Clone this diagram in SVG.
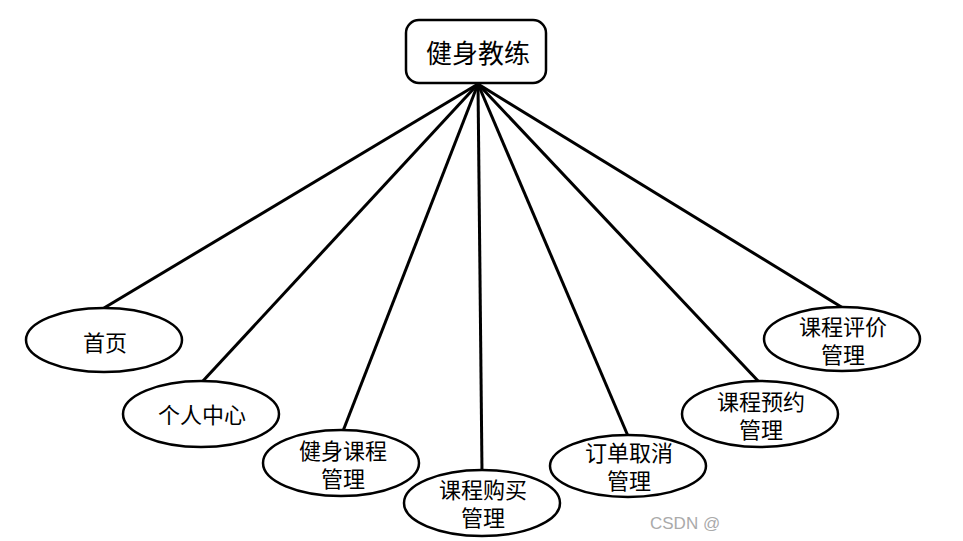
<svg xmlns="http://www.w3.org/2000/svg" width="963" height="541" viewBox="0 0 963 541">
<defs>
<style>
.e{fill:#fff;stroke:#000;stroke-width:2.5}
.t{font-family:"Noto Sans CJK SC","Noto Sans",sans-serif;font-size:22px;fill:#000;text-anchor:middle;dominant-baseline:central}
.c line{stroke:#000;stroke-width:3}
</style>
</defs>
<rect width="963" height="541" fill="#fff"/>
<g class="c" id="connectors">
<line x1="478" y1="84" x2="104" y2="308"/>
<line x1="478" y1="84" x2="202" y2="382"/>
<line x1="478" y1="84" x2="343" y2="431"/>
<line x1="478" y1="84" x2="482" y2="471"/>
<line x1="478" y1="84" x2="628" y2="436"/>
<line x1="478" y1="84" x2="760" y2="383"/>
<line x1="478" y1="84" x2="843" y2="308"/>
</g>
<g id="root">
<rect x="406" y="20" width="140" height="63" rx="13" class="e"/>
<text x="478" y="51" class="t" style="font-size:26px">健身教练</text>
</g>
<g id="n1">
<ellipse cx="104" cy="340" rx="78" ry="32" class="e"/>
<text x="105" y="341" class="t">首页</text>
</g>
<g id="n2">
<ellipse cx="201" cy="414" rx="78" ry="33" class="e"/>
<text x="202" y="413" class="t">个人中心</text>
</g>
<g id="n3">
<ellipse cx="341" cy="463" rx="78" ry="33" class="e"/>
<text class="t"><tspan x="343" y="449">健身课程</tspan><tspan x="343" y="477">管理</tspan></text>
</g>
<g id="n4">
<ellipse cx="482" cy="503" rx="78" ry="33" class="e"/>
<text class="t"><tspan x="483" y="488">课程购买</tspan><tspan x="483" y="516">管理</tspan></text>
</g>
<g id="n5">
<ellipse cx="628" cy="466" rx="78" ry="31" class="e"/>
<text class="t"><tspan x="629" y="451">订单取消</tspan><tspan x="629" y="479">管理</tspan></text>
</g>
<g id="n6">
<ellipse cx="760" cy="414" rx="78" ry="33" class="e"/>
<text class="t"><tspan x="761" y="400">课程预约</tspan><tspan x="761" y="428">管理</tspan></text>
</g>
<g id="n7">
<ellipse cx="842" cy="339" rx="78" ry="32" class="e"/>
<text class="t"><tspan x="843" y="325">课程评价</tspan><tspan x="843" y="353">管理</tspan></text>
</g>
<text x="650" y="529" style="font-family:'Liberation Sans',sans-serif;font-size:17px;fill:#aaa">CSDN @</text>
</svg>
